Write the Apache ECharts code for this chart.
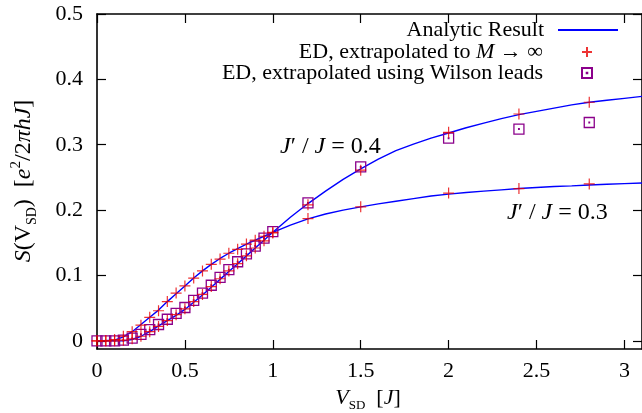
<!DOCTYPE html>
<html><head><meta charset="utf-8">
<script src="https://cdn.jsdelivr.net/npm/echarts@6/dist/echarts.min.js"></script>
<style>html,body{margin:0;padding:0;background:#fff}#c{width:642px;height:413px}</style>
</head><body><div id="c"></div>
<script>
// ---- data ----
const xTicks = [0, 0.5, 1, 1.5, 2, 2.5, 3];
const yTicks = [0, 0.1, 0.2, 0.3, 0.4, 0.5];

// analytic curves, sampled
const vAnalytic   = [0,0.1,0.15,0.2,0.25,0.3,0.35,0.4,0.45,0.5,0.55,0.6,0.65,0.7,0.75,0.8,0.85,0.9,0.95,1.0,
                     1.1,1.2,1.3,1.4,1.5,1.6,1.7,1.8,1.9,2.0,2.1,2.2,2.3,2.4,2.5,2.6,2.7,2.8,2.9,3.0,3.1];
const sAnalytic03 = [0,0.001,0.006,0.014,0.025,0.036,0.047,0.060,0.072,0.084,0.096,0.107,0.117,0.126,0.134,0.141,0.148,0.154,0.160,0.166,
                     0.177,0.1865,0.194,0.200,0.205,0.2095,0.2135,0.2175,0.2215,0.2245,0.227,0.229,0.231,0.233,0.2345,0.236,0.237,0.2385,0.2395,0.2405,0.2415];
const sAnalytic04 = [0,0,0,0.002,0.007,0.014,0.023,0.031,0.039,0.048,0.059,0.070,0.082,0.094,0.106,0.118,0.130,0.142,0.154,0.166,
                     0.189,0.210,0.229,0.247,0.263,0.278,0.291,0.301,0.310,0.318,0.326,0.333,0.340,0.346,0.351,0.356,0.361,0.365,0.368,0.371,0.374];

// ED points
const vED      = [0,0.05,0.1,0.15,0.2,0.25,0.3,0.35,0.4,0.45,0.5,0.55,0.6,0.65,0.7,0.75,0.8,0.85,0.9,0.95,1.0,1.2,1.5,2.0,2.4,2.8];
const sED03    = [0,0,0.002,0.007,0.014,0.024,0.036,0.046,0.060,0.073,0.084,0.096,0.107,0.117,0.125,0.134,0.140,0.148,0.154,0.160,0.166,0.187,0.205,0.226,0.233,0.240];
const sED04    = [0,0,0,0.001,0.003,0.007,0.014,0.022,0.031,0.040,0.049,0.060,0.071,0.083,0.095,0.107,0.118,0.130,0.142,0.153,0.165,0.208,0.261,0.319,0.347,0.365];
const sWilson04= [0,0,0,0.001,0.004,0.010,0.017,0.025,0.033,0.042,0.051,0.062,0.073,0.085,0.097,0.109,0.121,0.133,0.145,0.157,0.167,0.211,0.266,0.310,0.324,0.334];

const seriesNames = ['Analytic Result', 'ED, extrapolated to M \u2192 \u221e', 'ED, extrapolated using Wilson leads'];

// ---- chart ----
const FONT = 'Liberation Serif';
const FS = 22;
const BLUE = '#0000ff', RED = '#e80000', PURPLE = '#8b008b';
const PLUS = 'path://M5,0L5,10M0,5L10,5';
const BOX = 'path://M0,0L10,0L10,10L0,10Z M4.7,4.7L5.3,4.7L5.3,5.3L4.7,5.3Z';

const zip = (xs, ys) => xs.map((x, i) => [x, ys[i]]);
const chart = echarts.init(document.getElementById('c'), null, {renderer: 'canvas'});

const axisLineStyle = {color: '#000', width: 1.6};
const xBase = {type: 'value', min: 0, max: 3.1, splitLine: {show: false},
  axisLine: {show: true, onZero: false, lineStyle: axisLineStyle},
  axisTick: {show: true, inside: true, length: 9, customValues: xTicks, lineStyle: {color: '#000', width: 1.2}}};
const yBase = {type: 'value', min: -0.0125, max: 0.5, splitLine: {show: false},
  axisLine: {show: true, onZero: false, lineStyle: axisLineStyle},
  axisTick: {show: true, inside: true, length: 9, customValues: yTicks, lineStyle: {color: '#000', width: 1.2}}};

const rich = {
  r: {fontFamily: FONT, fontSize: FS, color: '#000'},
  i: {fontFamily: FONT, fontSize: FS, fontStyle: 'italic', color: '#000'}
};
const richBig = {
  r: {fontFamily: FONT, fontSize: 24, color: '#000'},
  i: {fontFamily: FONT, fontSize: 24, fontStyle: 'italic', color: '#000'}
};

function legendBox(name, right, top, w, h, icon, pad) {
  return {
    data: [{name: name, icon: icon}], orient: 'vertical', align: 'right',
    right: right, top: top, padding: 0, itemWidth: w, itemHeight: h,
    selectedMode: false,
    textStyle: {fontFamily: FONT, fontSize: FS, color: '#000', lineHeight: 22, padding: [0, pad, 0, 0], rich: rich},
    formatter: function (n) {
      if (n.indexOf(' M ') >= 0) {
        const k = n.indexOf(' M ');
        return '{r|' + n.slice(0, k + 1) + '}{i|M}{r|' + n.slice(k + 2) + '}';
      }
      return n;
    }
  };
}

const option = {
  animation: false,
  backgroundColor: '#fff',
  grid: {left: 97, top: 14, width: 547, height: 335, containLabel: false},
  xAxis: [
    Object.assign({}, xBase, {position: 'bottom',
      axisLabel: {show: true, customValues: xTicks, margin: 11, fontFamily: FONT, fontSize: FS, color: '#000'}}),
    Object.assign({}, xBase, {position: 'top', axisLabel: {show: false}})
  ],
  yAxis: [
    Object.assign({}, yBase, {position: 'left',
      axisLabel: {show: true, customValues: yTicks, margin: 14, fontFamily: FONT, fontSize: FS, color: '#000'}}),
    Object.assign({}, yBase, {position: 'right', axisLabel: {show: false}})
  ],
  legend: [
    legendBox(seriesNames[0], 24, 19, 60, 2, 'rect', 9),
    legendBox(seriesNames[1], 49, 41, 10, 10, PLUS, 34),
    legendBox(seriesNames[2], 49, 62, 10, 10, BOX, 34)
  ],
  series: [
    {name: seriesNames[0], type: 'line', data: zip(vAnalytic, sAnalytic03), showSymbol: false, smooth: false,
      lineStyle: {color: BLUE, width: 1.4}, itemStyle: {color: BLUE}, z: 2},
    {name: seriesNames[0], type: 'line', data: zip(vAnalytic, sAnalytic04), showSymbol: false, smooth: false,
      lineStyle: {color: BLUE, width: 1.4}, itemStyle: {color: BLUE}, z: 2},
    {name: seriesNames[2], type: 'scatter', data: zip(vED, sWilson04), symbol: BOX, symbolSize: 10,
      itemStyle: {color: 'rgba(0,0,0,0)', borderColor: PURPLE, borderWidth: 1.3, opacity: 1}, z: 3},
    {name: seriesNames[1], type: 'scatter', data: zip(vED, sED03), symbol: PLUS, symbolSize: 11,
      itemStyle: {color: 'rgba(0,0,0,0)', borderColor: RED, borderWidth: 1.2}, z: 4},
    {name: seriesNames[1], type: 'scatter', data: zip(vED, sED04), symbol: PLUS, symbolSize: 11,
      itemStyle: {color: 'rgba(0,0,0,0)', borderColor: RED, borderWidth: 1.2}, z: 4}
  ],
  graphic: [
    {type: 'text', x: 280, y: 147, style: {text: '{i|J}{r|\u2032 / }{i|J}{r| = 0.4}', rich: richBig, verticalAlign: 'middle', align: 'left'}},
    {type: 'text', x: 507, y: 213, style: {text: '{i|J}{r|\u2032 / }{i|J}{r| = 0.3}', rich: richBig, verticalAlign: 'middle', align: 'left'}},
    {type: 'text', x: 368, y: 398, style: {
      text: '{i|V}{sub|SD}{r|  [}{i|J}{r|]}',
      align: 'center', verticalAlign: 'middle',
      rich: Object.assign({}, rich, {sub: {fontFamily: FONT, fontSize: 13, color: '#000', verticalAlign: 'bottom', lineHeight: 28}})}},
    {type: 'text', x: 24, y: 181, rotation: Math.PI / 2, style: {
      text: '{i|S}{r|(V}{sub|SD}{r|)  [}{i|e}{sup|2}{r|/2}{i|\u03c0hJ}{r|]}',
      align: 'center', verticalAlign: 'middle',
      rich: Object.assign({}, richBig, {
        sub: {fontFamily: FONT, fontSize: 14, color: '#000', verticalAlign: 'bottom', lineHeight: 30},
        sup: {fontFamily: FONT, fontSize: 15, color: '#000', verticalAlign: 'top', lineHeight: 30}
      })}}
  ]
};
chart.setOption(option);
</script>
</body></html>
